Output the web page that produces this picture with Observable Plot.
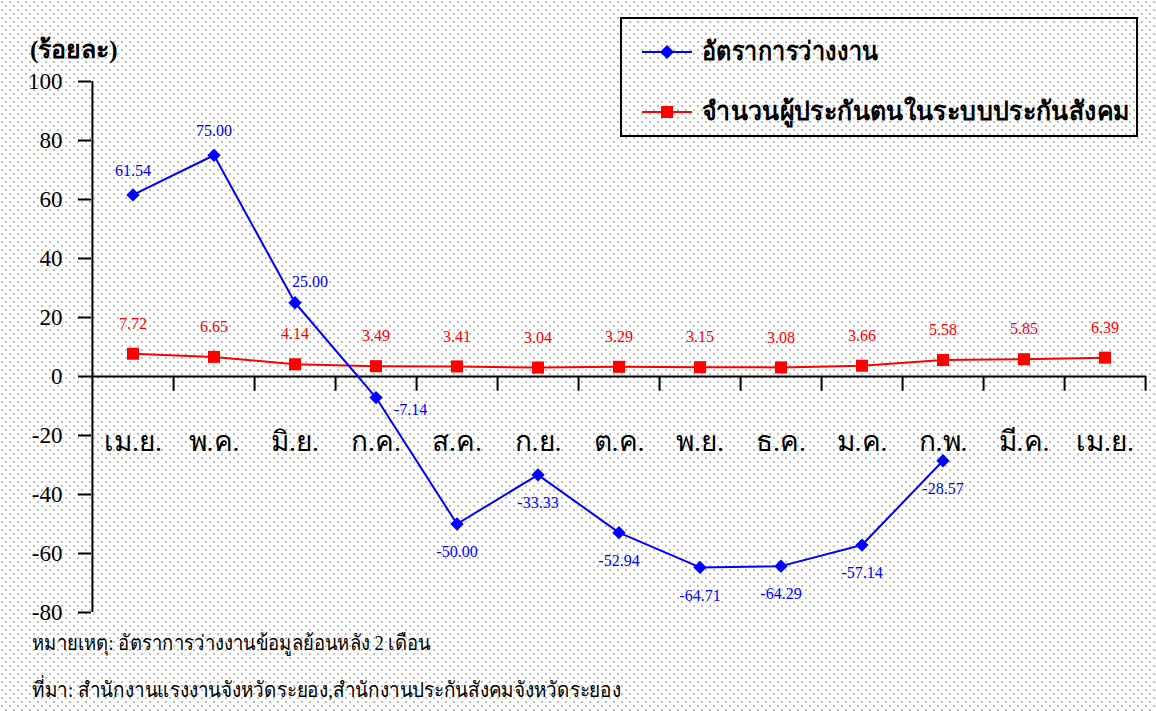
<!DOCTYPE html>
<html><head><meta charset="utf-8">
<script src="https://cdn.jsdelivr.net/npm/d3@7"></script>
<script src="https://cdn.jsdelivr.net/npm/@observablehq/plot@0.6"></script>
<style>
body{margin:0;background:#fff;}
#wrap{position:relative;width:1156px;height:711px;background-color:#fff;
 background-image:radial-gradient(circle at 2px 2px,#bdbdbd 0.9px,transparent 1.4px),radial-gradient(circle at 6px 6px,#bdbdbd 0.9px,transparent 1.4px);
 background-size:8px 8px;
 font-family:"Liberation Serif",serif;overflow:hidden;}
#unit{position:absolute;left:30px;top:34px;font-size:25px;font-weight:bold;line-height:32px;white-space:nowrap;}
#legend{position:absolute;left:620px;top:17px;width:518px;height:120px;border:2px solid #000;box-sizing:border-box;}
.lg{position:absolute;left:18px;display:flex;align-items:center;font-size:26px;font-weight:bold;line-height:30px;white-space:nowrap;}
.lg svg{margin-right:8px;}
.lg span{display:inline-block;transform-origin:left center;}
.note{position:absolute;left:32px;font-size:21px;line-height:28px;white-space:nowrap;transform-origin:left center;}
</style></head>
<body><div id="wrap">
<div id="chart"></div>
<div id="unit">(ร้อยละ)</div>
<div id="legend">
 <div class="lg" style="top:18px"><svg width="54" height="20"><line x1="2" x2="52" y1="10" y2="10" stroke="#0000ff" stroke-width="2"/><path d="M27,3L34,10L27,17L20,10Z" fill="#0000ff"/></svg><span id="lg1" style="transform:scaleX(0.9)"></span></div>
 <div class="lg" style="top:78px"><svg width="54" height="20"><line x1="2" x2="52" y1="10" y2="10" stroke="#ff0000" stroke-width="2"/><rect x="21" y="4" width="12" height="12" fill="#ff0000"/></svg><span id="lg2" style="transform:scaleX(0.96)"></span></div>
</div>
<div class="note" style="top:629px;transform:scaleX(0.88)">หมายเหตุ: อัตราการว่างงานข้อมูลย้อนหลัง 2 เดือน</div>
<div class="note" style="top:676px;transform:scaleX(0.9)">ที่มา: สำนักงานแรงงานจังหวัดระยอง,สำนักงานประกันสังคมจังหวัดระยอง</div>
</div>
<script>
const months = ["เม.ย.","พ.ค.","มิ.ย.","ก.ค.","ส.ค.","ก.ย.","ต.ค.","พ.ย.","ธ.ค.","ม.ค.","ก.พ.","มี.ค.","เม.ย."];
const unemployment = [61.54, 75.00, 25.00, -7.14, -50.00, -33.33, -52.94, -64.71, -64.29, -57.14, -28.57, null, null];
const insured = [7.72, 6.65, 4.14, 3.49, 3.41, 3.04, 3.29, 3.15, 3.08, 3.66, 5.58, 5.85, 6.39];
const seriesNames = ["อัตราการว่างงาน", "จำนวนผู้ประกันตนในระบบประกันสังคม"];
const yTicks = [100, 80, 60, 40, 20, 0, -20, -40, -60, -80];

document.getElementById("lg1").textContent = seriesNames[0];
document.getElementById("lg2").textContent = seriesNames[1];

const idx = d3.range(months.length);
const blue = idx.filter(i => unemployment[i] != null).map(i => ({i, v: unemployment[i]}));
const red = idx.map(i => ({i, v: insured[i]}));
const fmt = d3.formatLocale({decimal: ".", thousands: ",", grouping: [3], currency: ["", ""], minus: "-"}).format(".2f");
const serif = "Liberation Serif, serif";

const W = 1156, H = 625, mL = 91, mR = 10;
const bw = (W - mL - mR) / months.length;

const chart = Plot.plot({
  width: W, height: H,
  marginLeft: mL, marginRight: mR, marginTop: 81, marginBottom: 13,
  style: {fontFamily: serif, background: "transparent", overflow: "visible", color: "#000"},
  x: {type: "band", domain: idx, padding: 0, axis: null},
  y: {domain: [-80, 100], axis: null},
  marks: [
    Plot.axisY(yTicks, {tickSize: 13, strokeWidth: 2, label: null, tickFormat: () => ""}),
    Plot.text(yTicks, {y: d => d, frameAnchor: "left", textAnchor: "end", dx: -29, text: d => String(d), fontSize: 23, fontFamily: serif, fill: "#000"}),
    Plot.ruleX([0], {y1: 100, y2: -80, dx: -bw / 2, stroke: "#000", strokeWidth: 2}),
    Plot.ruleY([0], {stroke: "#000", strokeWidth: 2}),
    Plot.ruleX(idx, {x: d => d, y1: 0, y2: -5, dx: bw / 2, stroke: "#000", strokeWidth: 2}),
    Plot.text(idx, {x: d => d, y: 0, text: d => months[d], dy: 66, fontSize: 28, fontFamily: serif, fill: "#000"}),
    Plot.line(red, {x: "i", y: "v", stroke: "#ff0000", strokeWidth: 2}),
    Plot.dot(red, {x: "i", y: "v", symbol: "square", r: 6.8, fill: "#ff0000"}),
    Plot.text(red, {x: "i", y: "v", text: d => fmt(d.v), dy: -30, fontSize: 16, fontFamily: serif, fill: "#ff0000"}),
    Plot.line(blue, {x: "i", y: "v", stroke: "#0000ff", strokeWidth: 2}),
    Plot.dot(blue, {x: "i", y: "v", symbol: "diamond2", r: 6, fill: "#0000ff"}),
    Plot.text(blue.filter(d => d.i < 2), {x: "i", y: "v", text: d => fmt(d.v), dy: -24, fontSize: 16, fontFamily: serif, fill: "#0000ff"}),
    Plot.text(blue.filter(d => d.i === 2), {x: "i", y: "v", text: d => fmt(d.v), dx: 15, dy: -21, fontSize: 16, fontFamily: serif, fill: "#0000ff"}),
    Plot.text(blue.filter(d => d.i === 3), {x: "i", y: "v", text: d => fmt(d.v), dx: 18, dy: 12, textAnchor: "start", fontSize: 16, fontFamily: serif, fill: "#0000ff"}),
    Plot.text(blue.filter(d => d.i > 3), {x: "i", y: "v", text: d => fmt(d.v), dy: 28, fontSize: 16, fontFamily: serif, fill: "#0000ff"})
  ]
});
document.getElementById("chart").appendChild(chart);
</script>
</body></html>
